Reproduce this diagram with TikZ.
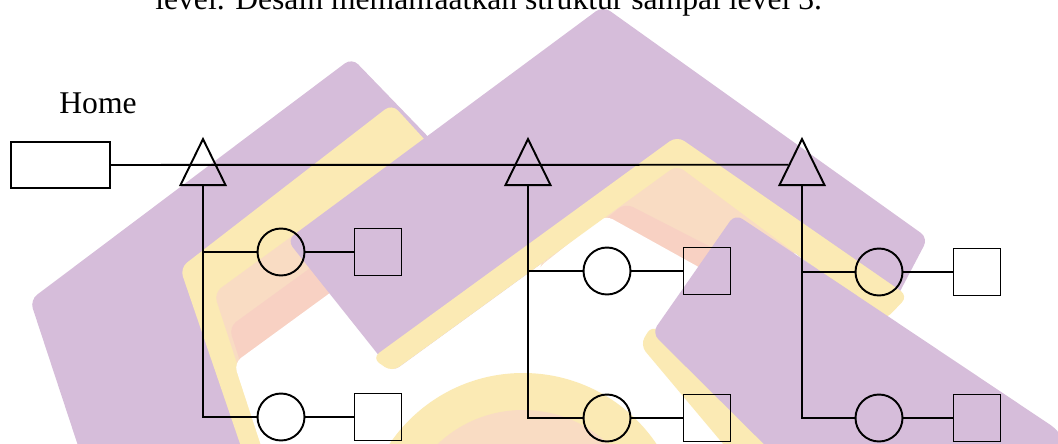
\documentclass[tikz,border=0pt]{standalone}
\usepackage{fontspec}
\setmainfont{Liberation Serif}
\usetikzlibrary{shapes.geometric,calc}

\definecolor{logoungu}{HTML}{D6BDDA}
\definecolor{logokuning}{HTML}{FBEAB4}
\definecolor{logopeach}{HTML}{F9DCC3}
\definecolor{logosalem}{HTML}{F8D1C3}

\tikzset{
  garis/.style={line width=1.1pt},
  halaman/.style={draw, garis, minimum width=1.98cm, minimum height=0.92cm, inner sep=0pt},
  menu/.style={draw, garis, isosceles triangle, isosceles triangle stretches, shape border rotate=90, minimum width=0.9cm, minimum height=0.92cm, inner sep=0pt},
  sub/.style={draw, garis, circle, minimum size=0.94cm, inner sep=0pt},
  isi/.style={draw, garis, minimum size=0.94cm, inner sep=0pt},
}

\begin{document}
\begin{tikzpicture}[x=0.02cm, y=-0.02cm, font=\fontsize{18}{20}\selectfont]
\useasboundingbox (0,0) rectangle (1058,443);
\clip (0,0) rectangle (1058,443);

% logo di latar belakang
\begin{scope}[rounded corners=5pt]
\fill[logoungu] (30,300) -- (352,58) -- (470,180) -- (330,470) -- (86,470) -- cycle;
\fill[logokuning] (180,268) -- (392,104) -- (480,200) -- (340,470) -- (249,470) -- cycle;
\fill[logopeach] (214,293) -- (380,172) -- (600,470) -- (272,470) -- cycle;
\fill[logosalem] (229,327) -- (390,210) -- (600,470) -- (275,470) -- cycle;
\fill[white] (234,363) -- (430,220) -- (760,220) -- (760,470) -- (269,470) -- cycle;
\fill[logoungu] (287,240) -- (603,6) -- (928,238) -- (885,320) -- (677,165) -- (392,372) -- cycle;
\fill[logopeach] (536,268) -- (674,163) -- (800,250) -- (730,300) -- cycle;
\fill[logosalem] (560,258) -- (625,203) -- (740,262) -- (720,300) -- cycle;
\fill[white] (538,268) -- (605,215) -- (722,280) -- (722,470) -- (480,470) -- cycle;
\fill[logokuning] (372,358) -- (677,136) -- (908,296) -- (885,320) -- (677,165) -- (392,372) -- cycle;
\end{scope}
\fill[logokuning] (523,534) circle (161);
\fill[logopeach] (523,534) circle (124);
\begin{scope}[rounded corners=5pt]
\fill[logokuning] (640,345) -- (652,325) -- (830,470) -- (745,470) -- cycle;
\fill[logoungu] (652,333) -- (735,214) -- (1058,430) -- (1080,470) -- (790,470) -- cycle;
\end{scope}

% teks
\node[anchor=base west, inner sep=0pt] (kalimat) at (155,9) {level. Desain memanfaatkan struktur sampai level 3.};
\node (judul) at (98,103) {Home};

% halaman utama dan menu
\node[halaman] (home) at (60.5,165) {};
\node[menu, anchor=lower side] (m1) at (203,186) {};
\node[menu, anchor=lower side] (m2) at (528,186) {};
\node[menu, anchor=lower side] (m3) at (802,186) {};

% sub menu
\node[sub] (l11) at (281,252) {};
\node[sub] (l12) at (281,417) {};
\node[sub] (l21) at (607,271) {};
\node[sub] (l22) at (607,418) {};
\node[sub] (l31) at (879,272) {};
\node[sub] (l32) at (879,418) {};

\node[isi] (k11) at (378,252) {};
\node[isi] (k12) at (378,417) {};
\node[isi] (k21) at (707,271) {};
\node[isi] (k22) at (707,418) {};
\node[isi] (k31) at (977,272) {};
\node[isi] (k32) at (977,418) {};

% garis penghubung
\draw[garis] (home) -- ($(m3.apex)!0.57!(m3.left corner)$);

\draw[garis] (m1.lower side) |- (l12);
\draw[garis] (m1.lower side |- l11) -- (l11);
\draw[garis] (m2.lower side) |- (l22);
\draw[garis] (m2.lower side |- l21) -- (l21);
\draw[garis] (m3.lower side) |- (l32);
\draw[garis] (m3.lower side |- l31) -- (l31);

\draw[garis] (l11) -- (k11);
\draw[garis] (l12) -- (k12);
\draw[garis] (l21) -- (k21);
\draw[garis] (l22) -- (k22);
\draw[garis] (l31) -- (k31);
\draw[garis] (l32) -- (k32);
\end{tikzpicture}
\end{document}
